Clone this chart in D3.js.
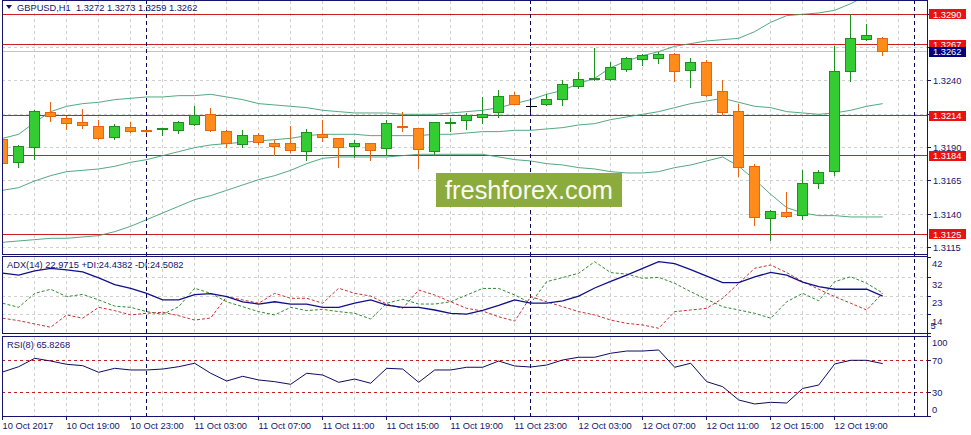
<!DOCTYPE html>
<html><head><meta charset="utf-8">
<script src="https://cdn.jsdelivr.net/npm/d3@7"></script>
<style>
body{margin:0;background:#fff;}
text{font-family:"Liberation Sans",Arial,sans-serif;}
</style></head>
<body><svg id="c" width="971" height="435"></svg>
<script>
// ---------- DATA (GBPUSD H1, 10 Oct 15:00 .. 12 Oct 22:00) ----------
const open = [1.3196,1.3179,1.3190,1.3216,1.3212,1.3209,1.3206,1.3198,1.3205,1.3203,
1.3203,1.3203,1.3207,1.3215,1.3202,1.3192,1.3199,1.3193,1.3193,1.3187,
1.3200,1.3197,1.3191,1.3193,1.3189,1.3206,1.3204,1.3187,1.3208,1.3210,
1.3213,1.3216,1.3229,1.3221,1.3222,1.3226,1.3236,1.3241,1.3241,1.3249,
1.3256,1.3257,1.3260,1.3248,1.3254,1.3232,1.3217,1.3176,1.3137,1.3141,
1.3139,1.3163,1.3172,1.3247,1.3271,1.3272];
const high = [1.3198,1.3192,1.3218,1.3224,1.3214,1.3219,1.3211,1.3208,1.3209,1.3204,
1.3205,1.3210,1.3221,1.3220,1.3203,1.3203,1.3201,1.3196,1.3206,1.3204,
1.3211,1.3197,1.3196,1.3193,1.3211,1.3217,1.3205,1.3209,1.3212,1.3216,
1.3228,1.3233,1.3232,1.3224,1.3230,1.3241,1.3247,1.3265,1.3254,1.3258,
1.3260,1.3262,1.3261,1.3257,1.3256,1.3241,1.3223,1.3178,1.3143,1.3157,
1.3173,1.3173,1.3266,1.3290,1.3283,1.3273];
const low = [1.3175,1.3175,1.3181,1.3209,1.3203,1.3204,1.3196,1.3196,1.3201,1.3201,
1.3199,1.3200,1.3206,1.3202,1.3190,1.3190,1.3192,1.3184,1.3186,1.3180,
1.3194,1.3175,1.3182,1.3180,1.3184,1.3202,1.3174,1.3184,1.3202,1.3203,
1.3208,1.3212,1.3222,1.3214,1.3221,1.3221,1.3234,1.3240,1.3240,1.3247,
1.3251,1.3253,1.3239,1.3235,1.3228,1.3214,1.3168,1.3131,1.3120,1.3137,
1.3136,1.3159,1.3169,1.3239,1.3270,1.3259];
const close = [1.3178,1.3191,1.3217,1.3213,1.3208,1.3207,1.3197,1.3206,1.3202,1.3202,
1.3204,1.3209,1.3214,1.3203,1.3193,1.3199,1.3194,1.3191,1.3188,1.3201,
1.3198,1.3190,1.3193,1.3188,1.3208,1.3205,1.3188,1.3209,1.3209,1.3214,
1.3215,1.3228,1.3222,1.3221,1.3226,1.3237,1.3241,1.3242,1.3250,1.3257,
1.3259,1.3260,1.3247,1.3254,1.3229,1.3216,1.3175,1.3138,1.3142,1.3138,
1.3163,1.3171,1.3247,1.3272,1.3274,1.3262];

const bbUpper = [1.3197,1.3200,1.3209,1.3217,1.3221,1.3223,1.3224,1.3226,1.3227,1.3228,
1.3228,1.3229,1.3229,1.3230,1.3228,1.3226,1.3223,1.3222,1.3221,1.3220,
1.3218,1.3217,1.3216,1.3216,1.3216,1.3215,1.3215,1.3215,1.3216,1.3217,
1.3218,1.3220,1.3223,1.3226,1.3230,1.3233,1.3238,1.3242,1.3250,1.3255,
1.3259,1.3262,1.3266,1.3268,1.3270,1.3271,1.3272,1.3277,1.3284,1.3289,
1.3290,1.3291,1.3293,1.3298,1.3304,1.3308];
const bbMiddle = [1.3158,1.3160,1.3165,1.3169,1.3172,1.3173,1.3174,1.3176,1.3179,1.3181,
1.3184,1.3187,1.3190,1.3192,1.3193,1.3194,1.3195,1.3196,1.3197,1.3199,
1.3200,1.3200,1.3200,1.3199,1.3199,1.3199,1.3199,1.3200,1.3200,1.3201,
1.3202,1.3202,1.3203,1.3203,1.3204,1.3205,1.3207,1.3208,1.3211,1.3213,
1.3215,1.3217,1.3220,1.3223,1.3225,1.3227,1.3224,1.3221,1.3220,1.3217,
1.3216,1.3215,1.3216,1.3218,1.3221,1.3223];
const bbLower = [1.3119,1.3120,1.3121,1.3122,1.3122,1.3123,1.3124,1.3127,1.3131,1.3136,
1.3141,1.3146,1.3151,1.3154,1.3158,1.3162,1.3166,1.3169,1.3173,1.3178,
1.3182,1.3183,1.3183,1.3183,1.3183,1.3184,1.3185,1.3185,1.3185,1.3185,
1.3185,1.3183,1.3181,1.3180,1.3178,1.3177,1.3175,1.3174,1.3172,1.3171,
1.3171,1.3172,1.3175,1.3177,1.3180,1.3183,1.3176,1.3166,1.3155,1.3145,
1.3141,1.3139,1.3139,1.3138,1.3138,1.3138];

const adx = [34.2,33.2,35.2,36.5,35.7,34.8,31.8,28.6,26.7,24.3,
21.1,21.1,23.7,24.2,22.7,20.2,19.1,20.2,19.1,19.1,
17.5,17.5,19.5,21.1,18.6,17.5,17.5,16.2,14.6,14.2,
16.0,18.4,21.1,19.5,19.5,20.6,23.0,26.9,30.1,33.2,
36.5,39.7,38.8,35.9,32.7,29.5,29.5,32.3,34.5,33.2,
29.8,27.6,26.3,26.3,26.3,22.97];
const plusDI = [19.5,17.5,24.3,26.3,22.7,23.8,21.1,18.1,17.5,15.4,
14.1,17.8,26.8,24.3,20.2,17.8,15.4,13.8,17.5,15.9,
16.5,15.4,14.6,11.8,19.5,21.4,19.1,19.1,20.2,23.5,
26.7,26.7,23.5,19.5,30.0,32.0,34.1,39.7,34.4,33.7,
31.6,32.1,29.2,25.1,21.4,17.8,16.2,14.6,12.2,20.2,
24.3,20.7,30.0,32.4,29.2,24.44];
const minusDI = [12.2,11.0,9.4,7.8,13.8,12.2,17.5,15.9,13.8,14.6,
15.1,13.4,11.3,12.3,22.7,21.1,19.5,24.3,21.9,21.9,
19.5,26.8,24.3,23.0,19.1,17.0,25.9,23.5,20.2,17.0,
15.7,12.9,10.8,22.7,20.2,17.8,15.4,13.8,11.3,9.7,
8.9,7.3,15.4,16.2,17.0,21.9,29.2,36.5,38.1,34.4,
30.0,26.3,22.7,19.5,16.2,24.51];
const rsi = [55.4,62.0,72.5,69.1,65.0,63.3,55.0,60.0,57.9,57.9,
59.1,62.0,66.3,53.8,44.1,50.0,45.4,43.3,40.0,53.8,
51.6,42.5,46.6,41.3,60.0,59.1,42.5,57.9,57.9,61.3,
61.3,69.1,62.9,61.6,64.1,70.4,73.8,73.8,78.8,81.6,
81.6,82.9,61.3,66.3,43.3,37.0,20.4,15.4,17.5,16.6,
34.8,39.1,65.4,70.0,70.0,65.83];

const timeLabels = ["10 Oct 2017","10 Oct 19:00","10 Oct 23:00","11 Oct 03:00","11 Oct 07:00",
"11 Oct 11:00","11 Oct 15:00","11 Oct 19:00","11 Oct 23:00","12 Oct 03:00","12 Oct 07:00",
"12 Oct 11:00","12 Oct 15:00","12 Oct 19:00"];
const timeLabelIdx = [0,4,8,12,16,20,24,28,32,36,40,44,48,52];
const separatorIdx = [9,33,57];
const priceTicks = [1.3115,1.3140,1.3165,1.3190,1.3215,1.3240,1.3265,1.3290];
const levels = [1.3290,1.3267,1.3214,1.3184,1.3125];
const bid = 1.3262;
const adxTicks = [42,32,23,14,5];
const rsiTicks = [100,70,30,0];
const rsiLevels = [70,30];
const header = "GBPUSD,H1  1.3272 1.3273 1.3259 1.3262";
const adxHeader = "ADX(14) 22.9715 +DI:24.4382 -DI:24.5082";
const rsiHeader = "RSI(8) 65.8268";

// ---------- LAYOUT ----------
const svg = d3.select("#c");
const xL = 2, xR = 927.5;
const NAVY = "#14146e", GRID = "#cfcfcf", RED = "#cc2020";
const panes = {main:[0.5,254.5], adx:[256.5,333.5], rsi:[336.5,416.5]};

const n = close.length;
const x = d3.scaleLinear().domain([0, n-1]).range([2.7, 2.7 + 16*(n-1)]);
const yP = d3.scaleLinear().domain([1.3125, 1.3290]).range([234.3, 14.3]);
const yA = d3.scaleLinear().domain([5, 42]).range([333, 257]);
const yR = d3.scaleLinear().domain([0, 100]).range([416.3, 336.3]);
const px = v => Math.floor(v) + 0.5;

svg.append("rect").attr("width",971).attr("height",435).attr("fill","#fff");

const defs = svg.append("defs");
Object.entries(panes).forEach(([k,[t,b]]) => {
  defs.append("clipPath").attr("id","clip-"+k).append("rect")
    .attr("x",xL).attr("y",t).attr("width",xR-xL).attr("height",b-t);
});

// vertical grid
const vIdx = d3.range(2, 58, 2);
Object.entries(panes).forEach(([k,[t,b]]) => {
  svg.append("g").selectAll("line").data(vIdx.filter(i => x(i) < xR)).join("line")
    .attr("x1", d=>px(x(d))).attr("x2", d=>px(x(d))).attr("y1", t).attr("y2", b)
    .attr("stroke", GRID).attr("stroke-dasharray","3,3").attr("shape-rendering","crispEdges");
});
// horizontal grid (main)
svg.append("g").selectAll("line").data(priceTicks).join("line")
  .attr("x1",xL).attr("x2",xR).attr("y1",d=>px(yP(d))).attr("y2",d=>px(yP(d)))
  .attr("stroke",GRID).attr("stroke-dasharray","3,3").attr("shape-rendering","crispEdges");
// horizontal grid (adx)
svg.append("g").selectAll("line").data(adxTicks.slice(1,4)).join("line")
  .attr("x1",xL).attr("x2",xR).attr("y1",d=>px(yA(d))).attr("y2",d=>px(yA(d)))
  .attr("stroke",GRID).attr("stroke-dasharray","3,3").attr("shape-rendering","crispEdges");

// bid line
svg.append("line").attr("x1",xL).attr("x2",xR).attr("y1",px(yP(bid))).attr("y2",px(yP(bid)))
  .attr("stroke","#c4c4c4").attr("shape-rendering","crispEdges");
// level lines
svg.append("g").selectAll("line").data(levels).join("line")
  .attr("x1",xL).attr("x2",xR).attr("y1",d=>px(yP(d))).attr("y2",d=>px(yP(d)))
  .attr("stroke",RED).attr("shape-rendering","crispEdges");

// Bollinger
const gMain = svg.append("g").attr("clip-path","url(#clip-main)");
const lineP = d3.line().x((d,i)=>x(i)).y(d=>yP(d));
[bbUpper,bbMiddle,bbLower].forEach(s => {
  gMain.append("path").attr("d", lineP(s)).attr("fill","none")
    .attr("stroke","#3f9e74").attr("stroke-width",1).attr("stroke-opacity",0.9);
});

// candles
const idx = d3.range(n);
const col = i => close[i] > open[i] ? "bull" : (close[i] < open[i] ? "bear" : "doji");
const edge = {bull:"#1f8f1f", bear:"#e8650f", doji:"#000"};
const fill = {bull:"#33cc33", bear:"#ff8c1a", doji:"#000"};
const gc = gMain.append("g").attr("shape-rendering","crispEdges");
gc.selectAll("line.w").data(idx).join("line").attr("class","w")
  .attr("x1",i=>px(x(i))).attr("x2",i=>px(x(i)))
  .attr("y1",i=>Math.round(yP(high[i]))).attr("y2",i=>Math.round(yP(low[i])))
  .attr("stroke",i=>edge[col(i)]);
gc.selectAll("rect").data(idx.filter(i=>col(i)!=="doji")).join("rect")
  .attr("x",i=>px(x(i))-5).attr("width",10)
  .attr("y",i=>px(Math.min(yP(open[i]),yP(close[i]))))
  .attr("height",i=>Math.max(1,Math.round(Math.abs(yP(open[i])-yP(close[i])))))
  .attr("fill",i=>fill[col(i)]).attr("stroke",i=>edge[col(i)]);
gc.selectAll("line.d").data(idx.filter(i=>col(i)==="doji")).join("line").attr("class","d")
  .attr("x1",i=>px(x(i))-5).attr("x2",i=>px(x(i))+6)
  .attr("y1",i=>px(yP(open[i]))).attr("y2",i=>px(yP(open[i])))
  .attr("stroke","#000");

// RSI levels
svg.append("g").selectAll("line").data(rsiLevels).join("line")
  .attr("x1",xL).attr("x2",xR).attr("y1",d=>px(yR(d))).attr("y2",d=>px(yR(d)))
  .attr("stroke","#c02020").attr("stroke-dasharray","3,3").attr("shape-rendering","crispEdges");

// period separators
svg.append("g").selectAll("line").data(separatorIdx).join("line")
  .attr("x1",d=>px(x(d))).attr("x2",d=>px(x(d))).attr("y1",0).attr("y2",416.5)
  .attr("stroke","#0a0a50").attr("stroke-dasharray","4,3").attr("shape-rendering","crispEdges");

// ADX
const gA = svg.append("g").attr("clip-path","url(#clip-adx)");
const lineA = d3.line().x((d,i)=>x(i)).y(d=>yA(d));
gA.append("path").attr("d",lineA(plusDI)).attr("fill","none").attr("stroke","#2e8b2e").attr("stroke-dasharray","3,2");
gA.append("path").attr("d",lineA(minusDI)).attr("fill","none").attr("stroke","#c83030").attr("stroke-dasharray","3,2");
gA.append("path").attr("d",lineA(adx)).attr("fill","none").attr("stroke","#101088").attr("stroke-width",1.3);

// RSI
const gR = svg.append("g").attr("clip-path","url(#clip-rsi)");
gR.append("path").attr("d",d3.line().x((d,i)=>x(i)).y(d=>yR(d))(rsi))
  .attr("fill","none").attr("stroke","#0c0c60").attr("stroke-width",1);

// pane borders
Object.values(panes).forEach(([t,b]) => {
  svg.append("rect").attr("x",xL+0.5).attr("y",t).attr("width",xR-xL-0.5).attr("height",b-t)
    .attr("fill","none").attr("stroke",NAVY).attr("shape-rendering","crispEdges");
});
svg.append("line").attr("x1",xR).attr("x2",xR).attr("y1",0).attr("y2",416.5)
  .attr("stroke",NAVY).attr("shape-rendering","crispEdges");

const FS = "9.3px";
// price axis
const gAx = svg.append("g").attr("fill",NAVY).attr("font-size",FS);
gAx.selectAll("line").data(priceTicks).join("line")
  .attr("x1",xR).attr("x2",xR+3).attr("y1",d=>px(yP(d))).attr("y2",d=>px(yP(d)))
  .attr("stroke",NAVY).attr("shape-rendering","crispEdges");
gAx.selectAll("text").data(priceTicks).join("text")
  .attr("x",933).attr("y",d=>yP(d)+3.4).text(d=>d3.format(".4f")(d));
// level boxes
const boxes = levels.map(v=>({v, c:"#e81212"})).concat([{v:bid, c:"#000080"}]);
const gb = svg.append("g");
boxes.forEach(b => {
  gb.append("rect").attr("x",929).attr("y",Math.round(yP(b.v))-5).attr("width",37).attr("height",10)
    .attr("fill",b.c);
  gb.append("text").attr("x",933).attr("y",yP(b.v)+3.4).attr("fill","#fff")
    .attr("font-size",FS).text(d3.format(".4f")(b.v));
});

// ADX axis
const gAA = svg.append("g").attr("fill",NAVY).attr("font-size",FS);
gAA.selectAll("line").data(adxTicks).join("line")
  .attr("x1",xR).attr("x2",xR+3).attr("y1",d=>px(yA(d))).attr("y2",d=>px(yA(d)))
  .attr("stroke",NAVY).attr("shape-rendering","crispEdges");
gAA.selectAll("text").data(adxTicks).join("text")
  .attr("x",d=> d===5 ? 930.5 : 932)
  .attr("y",d=> d===5 ? yA(d)-4 : yA(d)+10.3).text(d=>d);

// RSI axis
const gRA = svg.append("g").attr("fill",NAVY).attr("font-size",FS);
gRA.selectAll("line").data(rsiTicks).join("line")
  .attr("x1",xR).attr("x2",xR+3).attr("y1",d=>px(yR(d))).attr("y2",d=>px(yR(d)))
  .attr("stroke",NAVY).attr("shape-rendering","crispEdges");
gRA.selectAll("text").data(rsiTicks).join("text")
  .attr("x",932)
  .attr("y",d=> d===100 ? yR(d)+9.7 : (d===0 ? yR(d)-3 : yR(d)+3.4)).text(d=>d);

// time axis
const gT = svg.append("g").attr("fill",NAVY).attr("font-size",FS);
gT.selectAll("line").data(timeLabelIdx).join("line")
  .attr("x1",i=>px(x(i))).attr("x2",i=>px(x(i))).attr("y1",416.5).attr("y2",420)
  .attr("stroke",NAVY).attr("shape-rendering","crispEdges");
gT.selectAll("text").data(timeLabelIdx).join("text")
  .attr("x",i=>x(i)-0.2).attr("y",429).text((d,j)=>timeLabels[j]);

// headers
svg.append("path").attr("d","M6,5 L12,5 L9,9 Z").attr("fill",NAVY);
svg.append("text").attr("x",17).attr("y",10.6).attr("fill",NAVY).attr("font-size",FS)
  .attr("xml:space","preserve").style("white-space","pre").text(header);
svg.append("text").attr("x",7).attr("y",268.3).attr("fill",NAVY).attr("font-size",FS).text(adxHeader);
svg.append("text").attr("x",7).attr("y",347.6).attr("fill",NAVY).attr("font-size",FS).text(rsiHeader);

// watermark
svg.append("rect").attr("x",436).attr("y",173).attr("width",186).attr("height",34).attr("fill","#8bab3c");
svg.append("text").attr("x",529).attr("y",198.5).attr("text-anchor","middle")
  .attr("font-family","'Open Sans',sans-serif").attr("font-size","25px").attr("fill","#fbfbf4")
  .attr("textLength",168).attr("lengthAdjust","spacingAndGlyphs").text("freshforex.com");
</script></body></html>
